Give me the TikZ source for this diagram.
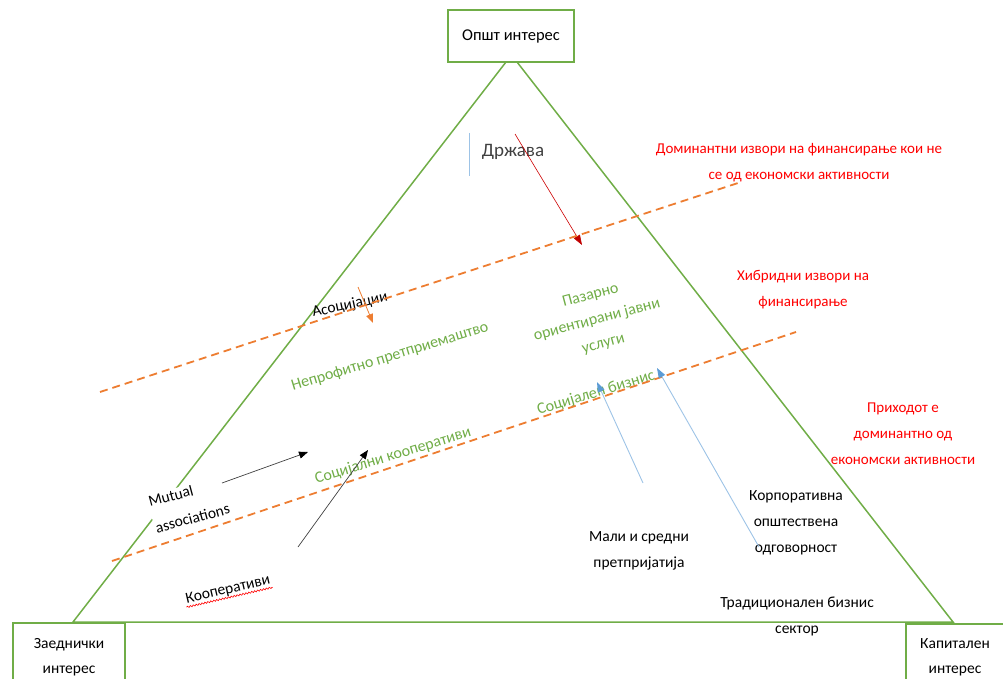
\documentclass[tikz,border=0pt]{standalone}
\usepackage{fontspec}
\setmainfont{Carlito}
\usepackage{xcolor}
\usepackage{tikz}
\usetikzlibrary{positioning, arrows.meta, decorations.pathmorphing}

\definecolor{boxgreen}{HTML}{70AD47}
\definecolor{dashorange}{HTML}{ED7D31}
\definecolor{lineblue}{HTML}{9DC3E6}
\definecolor{tipblue}{HTML}{5B9BD5}
\definecolor{tipred}{HTML}{C00000}
\definecolor{textgray}{HTML}{404040}

\begin{document}
\begin{tikzpicture}[
    x=1pt, y=-1pt,
    interest/.style={
        rectangle,
        draw=boxgreen,
        line width=1.5pt,
        align=center,
        font=\fontsize{15.5}{25}\selectfont
    },
    side/.style={
        boxgreen,
        line width=1.5pt
    },
    border/.style={
        dashorange,
        line width=1.8pt,
        dash pattern=on 8pt off 5pt
    },
    sector/.style={
        align=center,
        inner sep=1pt,
        font=\fontsize{15.5}{26}\selectfont
    },
    greenlabel/.style={
        sector,
        text=boxgreen,
        font=\fontsize{16}{25}\selectfont
    },
    source/.style={
        sector,
        text=red,
        font=\fontsize{15}{26}\selectfont
    },
    push/.style={
        line width=0.7pt,
        black!75,
        -{Triangle[length=9pt, width=7pt, black]}
    },
    lift/.style={
        line width=0.9pt,
        lineblue,
        -{Triangle[length=10pt, width=7pt, tipblue]}
    }
]
\useasboundingbox (0,0) rectangle (1003,679);

% interests at the corners
\node[interest, minimum width=126pt, minimum height=52pt, font=\fontsize{16.5}{20}\selectfont] (opsht) at (511,36) {Општ интерес};
\node[interest, minimum width=112pt, minimum height=68pt] (zaed) at (69,657) {Заеднички\\интерес};
\node[interest, minimum width=98pt, minimum height=66pt] (kapital) at (955,657) {Капитален\\интерес};

% triangle
\coordinate (apexl) at (506,62);
\coordinate (apexr) at (517,62);
\coordinate (basel) at (73,622);
\coordinate (baser) at (953,622);
\draw[side] (apexl) -- (basel) -- (baser) -- (apexr);

% state
\node[sector, text=textgray, font=\fontsize{19}{22}\selectfont] (drzava) at (513,152) {Држава};
\draw[lineblue, line width=0.9pt] (469,133) -- (469,176);
\coordinate (statefrom) at (515,134);
\coordinate (stateto) at (582,245);
\draw[red!80!black, line width=0.6pt, -{Triangle[length=10pt, width=7pt, tipred]}] (statefrom) -- (stateto);

% financing sources
\node[source] (dominant) at (799,163) {Доминантни извори на финансирање кои не\\се од економски активности};
\node[source] (hibrid) at (803,290) {Хибридни извори на\\финансирање};
\node[source] (prihod) at (903,434) {Приходот е\\доминантно од\\економски активности};

% organisations
\node[sector, rotate=12] (asoc) at (350,305) {Асоцијации};
\coordinate (asocfrom) at (358,287);
\coordinate (asocto) at (373,323);
\draw[dashorange, line width=0.8pt, -{Triangle[length=9pt, width=7pt]}] (asocfrom) -- (asocto);

\node[greenlabel, rotate=17] (neprofit) at (390,357) {Непрофитно претприемаштво};
\node[greenlabel, rotate=15, font=\fontsize{16}{25}\selectfont] (pazar) at (597,320) {Пазарно\\ориентирани јавни\\услуги};
\node[greenlabel, rotate=17] (socbiz) at (596,393) {Социјален бизнис};
\node[greenlabel, rotate=17] (soczad) at (393,456) {Социјални кооперативи};

\node[sector, rotate=15, align=left, fill=white, font=\fontsize{15.5}{27}\selectfont] (mutual) at (189,505) {Mutual\\associations};
\node[sector, rotate=13] (koop) at (228,590) {Кооперативи};
\draw[red, line width=0.6pt, decorate, decoration={snake, amplitude=0.8pt, segment length=3pt}] (koop.south west) -- (koop.south east);

\node[sector] (mali) at (639,551) {Мали и средни\\претпријатија};
\node[sector] (korp) at (796,523) {Корпоративна\\општествена\\одговорност};
\node[sector] (tradic) at (797,616) {Традиционален бизнис\\сектор};

% borders between the financing zones
\coordinate (upa) at (100,392);
\coordinate (upb) at (738,183);
\coordinate (lowa) at (112,561);
\coordinate (lowb) at (796,332);
\draw[border] (upa) -- (upb);
\draw[border] (lowa) -- (lowb);

% arrows towards the social economy
\coordinate (mutfrom) at (222,483);
\coordinate (mutto) at (308,452);
\coordinate (koopfrom) at (298,547);
\coordinate (koopto) at (368,450);
\draw[push] (mutfrom) -- (mutto);
\draw[push] (koopfrom) -- (koopto);

\coordinate (malifrom) at (643,483);
\coordinate (malito) at (597,382);
\coordinate (korpfrom) at (759,547);
\coordinate (korpto) at (657,368);
\draw[lift] (malifrom) -- (malito);
\draw[lift] (korpfrom) -- (korpto);

\end{tikzpicture}
\end{document}
